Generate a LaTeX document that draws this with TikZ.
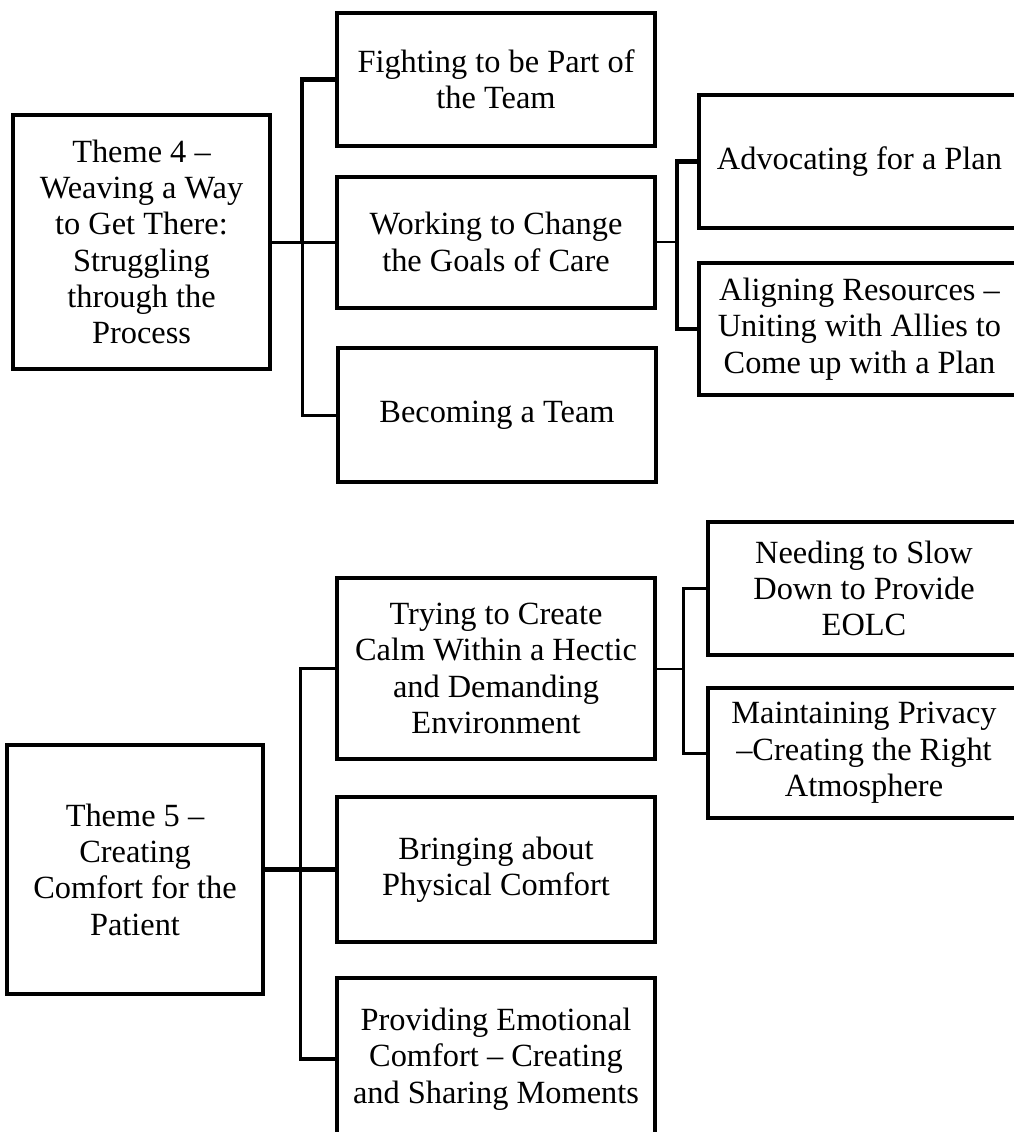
\documentclass[tikz,border=0pt]{standalone}
\usepackage{fontspec}
\setmainfont{Liberation Serif}
\usepackage{tikz}
\usetikzlibrary{positioning,calc}
\tikzset{
    box/.style={draw, line width=4bp, rectangle, align=center, inner sep=0pt,
                font=\fontsize{32.5}{36.5}\selectfont}, % the framed boxes
    link/.style={line width=3bp}, % trunk connectors
    thinlink/.style={line width=2bp},
    boldlink/.style={line width=4.5bp},
}

\begin{document}
\begin{tikzpicture}[x=1bp,y=-1bp]
   \useasboundingbox (0,0) rectangle (1014,1132);
   % Theme 4
   \node[box, minimum width=257bp, minimum height=254bp] (theme4) at (141.5,242)
       {Theme 4 --\\Weaving a Way\\to Get There:\\Struggling\\through the\\Process};
   \node[box, minimum width=318bp, minimum height=133bp] (fight) at (496,79.5)
       {Fighting to be Part of\\the Team};
   \node[box, minimum width=318bp, minimum height=131bp] (work) at (496,242)
       {Working to Change\\the Goals of Care};
   \node[box, minimum width=318bp, minimum height=134bp] (become) at (497,415)
       {Becoming a Team};
   \node[box, minimum width=321bp, minimum height=133bp] (advocate) at (859.5,161.5)
       {Advocating for a Plan};
   \node[box, minimum width=321bp, minimum height=132bp] (align) at (859.5,329)
       {Aligning Resources --\\Uniting with Allies to\\Come up with a Plan};
   \coordinate (trunkA) at (302,242);
   \coordinate (trunkB) at (677,242);
   \draw[link] (theme4.east) -- (work.west);
   \draw[boldlink] (fight.west) -| (trunkA);
   \draw[link] (trunkA) |- (become.west);
   \draw[thinlink] (work.east) -- (trunkB);
   \draw[boldlink] (advocate.west) -| (trunkB) |- (align.west);
   % Theme 5
   \node[box, minimum width=256bp, minimum height=249bp] (theme5) at (135,869.5)
       {Theme 5 --\\Creating\\Comfort for the\\Patient};
   \node[box, minimum width=318bp, minimum height=181bp] (trying) at (496,668.5)
       {Trying to Create\\Calm Within a Hectic\\and Demanding\\Environment};
   \node[box, minimum width=318bp, minimum height=145bp] (bring) at (496,869.5)
       {Bringing about\\Physical Comfort};
   \node[box, minimum width=318bp, minimum height=162bp] (provide) at (496,1059)
       {Providing Emotional\\Comfort -- Creating\\and Sharing Moments};
   \node[box, minimum width=312bp, minimum height=133bp] (needing) at (864,588.5)
       {Needing to Slow\\Down to Provide\\EOLC};
   \node[box, minimum width=312bp, minimum height=130bp] (maintain) at (864,753)
       {Maintaining Privacy\\--Creating the Right\\Atmosphere};
   \coordinate (trunkC) at (300,869.5);
   \coordinate (trunkD) at (683,668.5);
   \draw[boldlink] (theme5.east) -- (bring.west);
   \draw[link] (trying.west) -| (trunkC) |- (provide.west);
   \draw[boldlink] (trunkC |- provide.west) -- (provide.west);
   \draw[thinlink] (trying.east) -- (trunkD);
   \draw[link] (needing.west) -| (trunkD) |- (maintain.west);
\end{tikzpicture}
\end{document}
